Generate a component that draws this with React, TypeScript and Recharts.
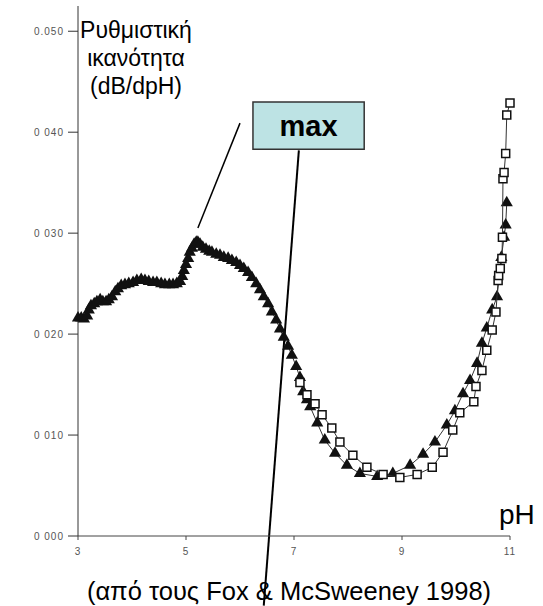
import {
  ScatterChart, Scatter, XAxis, YAxis, ZAxis,
  ReferenceLine, ReferenceArea,
} from 'recharts'

// buffering capacity vs pH, filled triangles (whole range)
const TRI_PH = [
  3.0, 3.06, 3.11, 3.17, 3.2, 3.24, 3.3, 3.35, 3.41, 3.46, 3.52, 3.57, 3.63, 3.69, 3.74, 3.8, 3.87, 3.94,
  4.02, 4.09, 4.17, 4.24, 4.31, 4.39, 4.46, 4.54, 4.61, 4.69, 4.76, 4.83, 4.89, 4.93, 4.96, 5.0, 5.04,
  5.07, 5.11, 5.15, 5.19, 5.22, 5.26, 5.31, 5.37, 5.43, 5.48, 5.56, 5.63, 5.7, 5.78, 5.85, 5.93, 6.0,
  6.07, 6.15, 6.22, 6.3, 6.37, 6.44, 6.52, 6.59, 6.67, 6.74, 6.81, 6.89, 6.96, 7.04, 7.11, 7.17, 7.24,
  7.3, 7.43, 7.57, 7.76, 7.98, 8.22, 8.54, 8.83, 9.15, 9.39, 9.61, 9.83, 9.98, 10.13, 10.26, 10.39,
  10.48, 10.57, 10.67, 10.76, 10.84, 10.89, 10.92, 10.94,
]
const TRI_VAL = [
  0.0216, 0.0216, 0.0215, 0.0218, 0.0224, 0.0228, 0.023, 0.0232, 0.0234, 0.0232, 0.0232, 0.0234, 0.0237,
  0.0242, 0.0245, 0.0248, 0.0249, 0.025, 0.0251, 0.0253, 0.0254, 0.0253, 0.0252, 0.0251, 0.0251, 0.025,
  0.0249, 0.0249, 0.0249, 0.025, 0.0252, 0.0257, 0.0263, 0.0269, 0.0275, 0.0281, 0.0285, 0.0289, 0.0291,
  0.0291, 0.0289, 0.0286, 0.0284, 0.0282, 0.0281, 0.0279, 0.0278, 0.0276, 0.0275, 0.0273, 0.0271, 0.0268,
  0.0265, 0.0261, 0.0256, 0.025, 0.0244, 0.0237, 0.023, 0.0222, 0.0214, 0.0205, 0.0197, 0.0188, 0.0179,
  0.0168, 0.0157, 0.0143, 0.0135, 0.0128, 0.0112, 0.0095, 0.0082, 0.007, 0.0062, 0.0059, 0.0062, 0.007,
  0.0081, 0.0093, 0.011, 0.0124, 0.0141, 0.0154, 0.0171, 0.0191, 0.0206, 0.0224, 0.0237, 0.0276, 0.0296,
  0.0308, 0.033,
]

// open squares (second sample, from pH ~7)
const SQ_PH = [
  7.11, 7.24, 7.39, 7.52, 7.7, 7.85, 8.09, 8.35, 8.65, 8.96, 9.28, 9.56, 9.76, 9.94, 10.07, 10.33, 10.37,
  10.48, 10.57, 10.67, 10.74, 10.78, 10.79, 10.82, 10.85, 10.86, 10.87, 10.89, 10.92, 10.94, 11.0,
]
const SQ_VAL = [
  0.0152, 0.014, 0.0131, 0.012, 0.0107, 0.0093, 0.008, 0.0068, 0.0061, 0.0058, 0.0061, 0.0068, 0.0083,
  0.0105, 0.0122, 0.0133, 0.0148, 0.0164, 0.0184, 0.0204, 0.0222, 0.0253, 0.0258, 0.0265, 0.0275, 0.0296,
  0.0354, 0.036, 0.0379, 0.0417, 0.0429,
]

const X_TICKS = [3, 5, 7, 9, 11]
const Y_TICKS = [0, 0.01, 0.02, 0.03, 0.04, 0.05]
const Y_LABELS = ['0 000', '0 010', '0 020', '0 030', '0 040', '0.050']

const tri = TRI_PH.map((x, i) => ({ x, y: TRI_VAL[i] }))
const sq = SQ_PH.map((x, i) => ({ x, y: SQ_VAL[i] }))

const FONT = 'Liberation Sans, Arial, sans-serif'
const tickStyle = { fontSize: 10, fill: '#555', fontFamily: FONT, letterSpacing: 1 }

export default function App() {
  return (
    <div style={{ position: 'absolute', left: 0, top: 0, width: 543, height: 606, background: '#fff', fontFamily: FONT }}>
      <ScatterChart width={543} height={606} margin={{ top: 6, right: 33, bottom: 40, left: 0 }}>
        <XAxis
          type="number" dataKey="x" domain={[3, 11]} ticks={X_TICKS} interval={0}
          height={30} tickSize={4} tickMargin={8} stroke="#444"
          tick={tickStyle}
        />
        <YAxis
          type="number" dataKey="y" domain={[0, 0.0525]} ticks={Y_TICKS} interval={0}
          width={78} tickSize={10} tickMargin={4} stroke="#333"
          tickFormatter={(v: number) => Y_LABELS[Y_TICKS.indexOf(v)] ?? ''}
          tick={tickStyle}
        />
        <ZAxis zAxisId="tri" range={[18, 18]} />
        <ZAxis zAxisId="sq" range={[34, 34]} />
        <Scatter
          data={tri} zAxisId="tri" shape="triangle" fill="#111"
          line={{ stroke: '#333', strokeWidth: 1 }} isAnimationActive={false}
        />
        <Scatter
          data={sq} zAxisId="sq" shape="square" fill="#fff" stroke="#111" strokeWidth={1.5}
          line={{ stroke: '#333', strokeWidth: 1 }} isAnimationActive={false}
        />
        {/* "max" call-out box and its two pointer lines */}
        <ReferenceArea
          x1={6.24} x2={8.3} y1={0.0383} y2={0.043} ifOverflow="visible"
          fill="#bde3e4" fillOpacity={1} stroke="#333" strokeWidth={1.5}
          label={{ value: 'max', position: 'center', fontSize: 29, fontWeight: 'bold', fill: '#000', fontFamily: FONT }}
        />
        <ReferenceLine
          segment={[{ x: 6.0, y: 0.0409 }, { x: 5.22, y: 0.0305 }]}
          stroke="#000" strokeWidth={1.5} ifOverflow="visible"
        />
        <ReferenceLine
          segment={[{ x: 7.09, y: 0.0382 }, { x: 6.44, y: -0.0069 }]}
          stroke="#000" strokeWidth={2} ifOverflow="visible"
        />
      </ScatterChart>

      <div style={{ position: 'absolute', left: 56, top: 16, width: 160, textAlign: 'center', fontSize: 23, lineHeight: '28px', color: '#000' }}>
        Ρυθμιστική<br />ικανότητα<br />(dB/dpH)
      </div>
      <div style={{ position: 'absolute', left: 499, top: 499, fontSize: 28, lineHeight: '32px', color: '#000' }}>
        pH
      </div>
      <div style={{ position: 'absolute', left: 39, top: 577, width: 500, textAlign: 'center', fontSize: 25.5, lineHeight: '28px', color: '#000' }}>
        (από τους Fox &amp; McSweeney 1998)
      </div>
    </div>
  )
}
